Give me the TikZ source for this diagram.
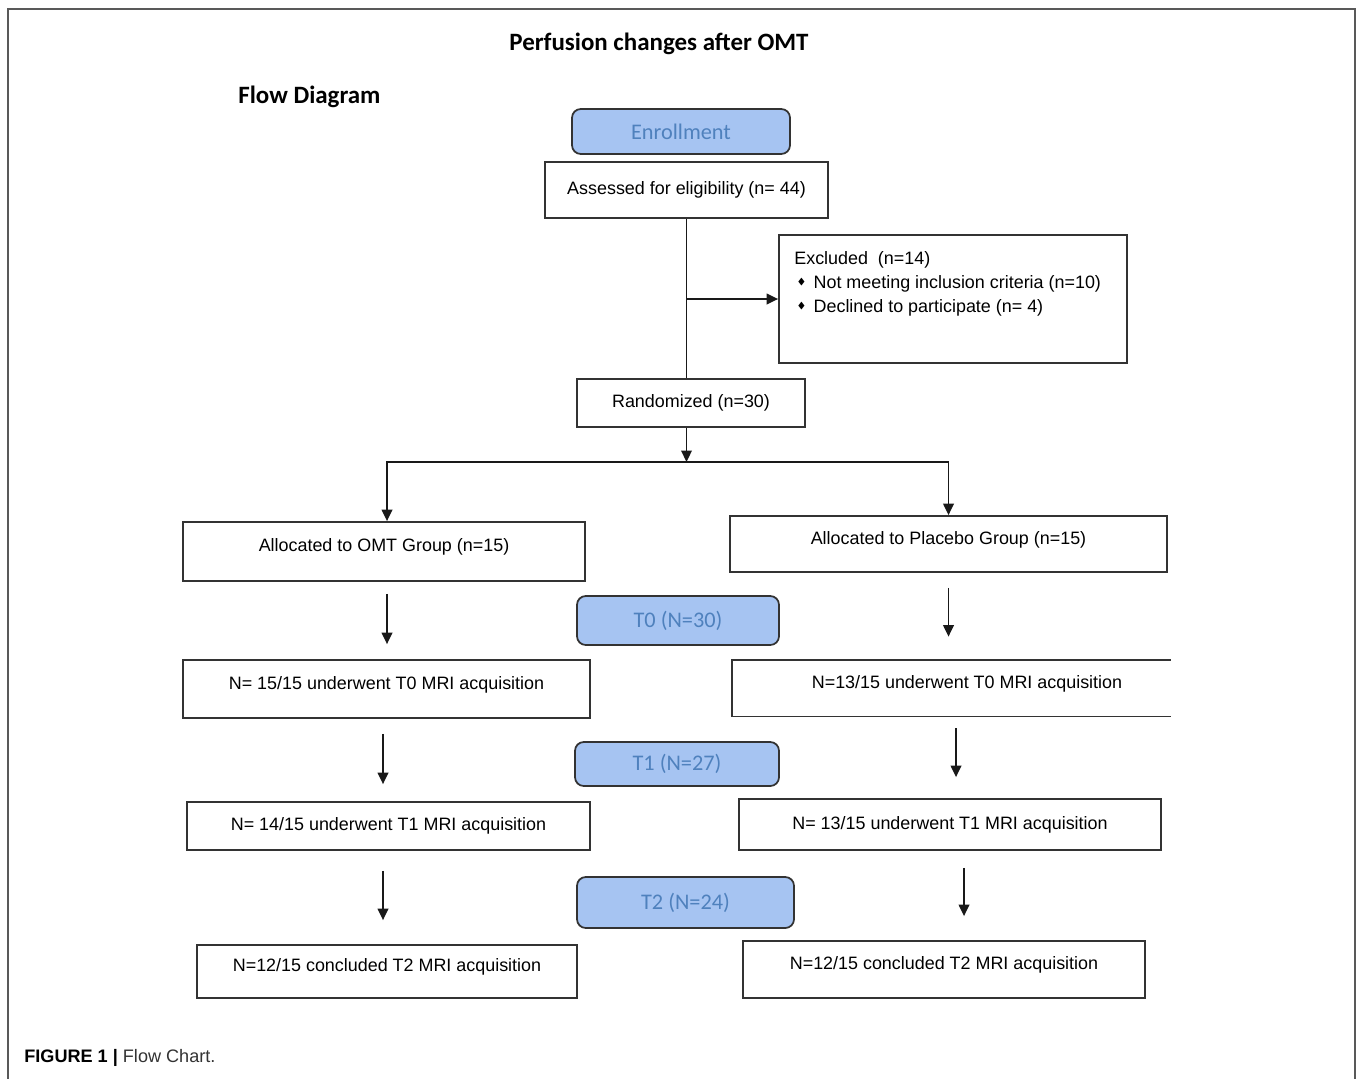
\documentclass[tikz,border=0pt]{standalone}
\usepackage{amssymb}
\usepackage{fontspec}
\setmainfont{Liberation Sans}
\newfontfamily\calib{Carlito}
\usetikzlibrary{arrows, arrows.meta, positioning}
\tikzset{
    %Define standard arrow tip
    >={Triangle[length=6.5pt, width=6pt]},
}
\newdimen\pxu
\pxu=0.02cm
\definecolor{pillblue}{RGB}{166,196,242}
\definecolor{pilltext}{RGB}{79,129,189}

\begin{document}
\begin{tikzpicture}[
  x=0.02cm, y=-0.02cm,
  every node/.style = {align=center, font=\fontsize{10.2}{12.5}\selectfont},
  box/.style args = {#1/#2}{draw=black!80, line width=1pt, inner sep=0pt,
                            minimum width=#1\pxu, minimum height=#2\pxu},
  tall/.style = {text height=1.5ex, text depth=1.5ex},
  pill/.style args = {#1/#2}{box=#1/#2, rounded corners=5pt, fill=pillblue,
                             text=pilltext, font=\calib\fontsize{12.7}{15}\selectfont},
  link/.style = {->, line width=1pt, black!90},
  gap/.style 2 args = {link, shorten <=#1\pxu, shorten >=#2\pxu},
  hd/.style = {font=\calib\bfseries\fontsize{14.2}{17}\selectfont} ]
  \useasboundingbox (0,0) rectangle (1358,1078);
  \draw[black!65, line width=1.2pt] (8,1085) -- (8,9) -- (1355,9) -- (1355,1085);

  \node [hd] (title) at (659,44) {Perfusion changes after OMT};
  \node [hd, anchor=west, inner sep=0pt] (flow) at (238,97) {Flow Diagram};

  \node [pill=218/45] (enrol) at (681,131.5) {Enrollment};
  \node [box=283/56] (assess) at (686.5,190) {Assessed for eligibility (n= 44)};
  \node [box=348/128, label={[anchor=north west, xshift=10\pxu, yshift=-11\pxu, align=left,
         font=\fontsize{10.2}{13.6}\selectfont]north west:{Excluded\ \ (n=14)\\
         \hspace*{3\pxu}\raisebox{1.9pt}{\tiny$\blacklozenge$}\hspace{8\pxu}Not meeting inclusion criteria (n=10)\\
         \hspace*{3\pxu}\raisebox{1.9pt}{\tiny$\blacklozenge$}\hspace{8\pxu}Declined to participate (n= 4)}}] (excl) at (953,299) {};
  \node [box=228/48] (rand) at (691,403) {Randomized (n=30)};
  \coordinate (split) at (686.5,462);

  \node [box=402/59, tall] (omt) at (384,551.5) {Allocated to OMT Group (n=15)};
  \node [box=437/56, tall] (pla) at (948.5,544) {Allocated to Placebo Group (n=15)};

  \node [pill=202/49] (t0) at (678,620.5) {T0 (N=30)};
  \node [box=407/58, tall] (omt0) at (386.5,689) {N= 15/15 underwent T0 MRI acquisition};
  \node [box=468/55, tall, draw=none] (pla0) at (967,688) {N=13/15 underwent T0 MRI acquisition};
  \draw [black!80, line width=1pt] ([xshift=-31\pxu]pla0.north east) -- (pla0.north west)
        -- (pla0.south west) -- ([xshift=-31\pxu]pla0.south east);

  \node [pill=204/44] (t1) at (677,764) {T1 (N=27)};
  \node [box=403/48] (omt1) at (388.5,826) {N= 14/15 underwent T1 MRI acquisition};
  \node [box=422/51] (pla1) at (950,824.5) {N= 13/15 underwent T1 MRI acquisition};

  \node [pill=217/51] (t2) at (685.5,902.5) {T2 (N=24)};
  \node [box=380/53, tall] (omt2) at (387,971.5) {N=12/15 concluded T2 MRI acquisition};
  \node [box=402/57, tall] (pla2) at (944,969.5) {N=12/15 concluded T2 MRI acquisition};

  \node [anchor=west, inner sep=0pt, font=\fontsize{10.3}{12}\selectfont] (cap) at (24,1058)
        {\textbf{FIGURE 1 |} {\color{black!80}Flow Chart.}};

  \draw [line width=1pt, black!90] (assess.south) -- (assess.south |- rand.north);
  \draw [link] (assess.south |- excl.west) -- (excl.west);
  \draw [link] (rand.south -| split) -- (split);
  \draw [link] (split) -| ([xshift=3\pxu]omt.north);
  \draw [link] (split) -| (pla.north);

  \draw [gap={12}{15}] ([xshift=3\pxu]omt.south) -- ([xshift=3\pxu]omt.south |- omt0.north);
  \draw [gap={15}{17}] ([xshift=-3.5\pxu]omt0.south) -- ([xshift=-3.5\pxu]omt0.south |- omt1.north);
  \draw [gap={20}{24}] ([xshift=-5.5\pxu]omt1.south) -- ([xshift=-5.5\pxu]omt1.south |- omt2.north);
  \draw [gap={15}{23}] (pla.south) -- (pla.south |- pla0.north);
  \draw [gap={12}{21}] ([xshift=-11\pxu]pla0.south) -- ([xshift=-11\pxu]pla0.south |- pla1.north);
  \draw [gap={17}{24}] ([xshift=14\pxu]pla1.south) -- ([xshift=14\pxu]pla1.south |- pla2.north);
\end{tikzpicture}
\end{document}
